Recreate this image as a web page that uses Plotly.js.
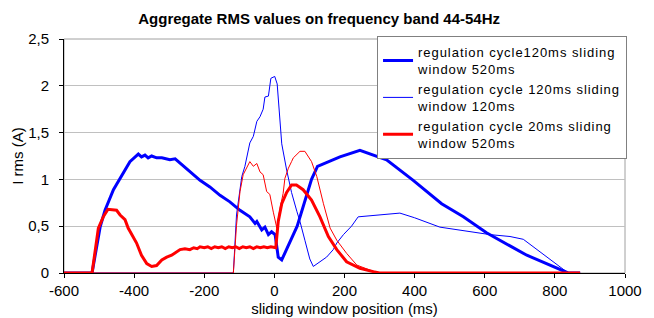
<!DOCTYPE html>
<html>
<head>
<meta charset="utf-8">
<script src="https://cdn.plot.ly/plotly-3.0.1.min.js"></script>
<style>
  html, body { margin: 0; padding: 0; background: #fff; }
  #chart { width: 654px; height: 318px; }
  .legendtext { letter-spacing: 0.95px; }
</style>
</head>
<body>
<div id="chart"></div>
<script>
// Series 1: regulation cycle 120ms, sliding window 520ms (thick blue)
const xA = [-600, -520, -497, -483, -459, -436, -412, -388, -379, -369, -360, -350, -336, -321, -307, -298, -283, -271, -241, -212, -184, -155, -127, -98, -70, -55, -50, -36, -27, -17, -8, 2, 11, 21, 65, 106, 123, 187, 244, 320, 396, 477, 539, 605, 672, 720, 838, 872];
const yA = [0, 0, 0.49, 0.67, 0.89, 1.03, 1.19, 1.27, 1.24, 1.26, 1.23, 1.25, 1.23, 1.23, 1.22, 1.21, 1.22, 1.18, 1.08, 0.99, 0.92, 0.83, 0.76, 0.67, 0.60, 0.53, 0.55, 0.46, 0.49, 0.41, 0.44, 0.41, 0.17, 0.14, 0.50, 1.00, 1.14, 1.24, 1.31, 1.21, 0.99, 0.74, 0.60, 0.43, 0.29, 0.19, 0.0, 0.0];

// Series 2: regulation cycle 120ms, sliding window 120ms (thin blue)
const xB = [-600, -117, -108, -100, -93, -84, -77, -70, -60, -50, -41, -32, -27, -17, -10, 1, 8, 14, 21, 35, 49, 64, 73, 87, 101, 111, 125, 149, 168, 178, 197, 220, 239, 270, 330, 358, 400, 472, 615, 672, 710, 838, 872];
const yB = [0, 0, 0.62, 0.85, 1.03, 1.14, 1.25, 1.39, 1.46, 1.62, 1.67, 1.75, 1.88, 1.89, 2.08, 2.10, 2.02, 1.75, 1.38, 1.10, 0.86, 0.66, 0.55, 0.35, 0.15, 0.07, 0.11, 0.17, 0.25, 0.32, 0.41, 0.50, 0.60, 0.61, 0.63, 0.64, 0.59, 0.49, 0.41, 0.39, 0.36, 0.0, 0.0];

// Series 3: regulation cycle 20ms, sliding window 520ms (thick red)
const xC = [-600, -520, -502, -488, -475, -460, -450, -440, -426, -417, -402, -393, -379, -364, -350, -336, -321, -307, -293, -279, -269, -255, -241, -230, -220, -212, -200, -190, -180, -170, -160, -150, -140, -130, -120, -110, -100, -90, -80, -70, -60, -50, -40, -30, -20, -10, 0, 4, 11, 21, 35, 49, 63, 82, 106, 130, 154, 178, 206, 244, 282, 300, 872];
const yC = [0, 0, 0.48, 0.60, 0.68, 0.67, 0.67, 0.62, 0.57, 0.48, 0.37, 0.32, 0.19, 0.10, 0.07, 0.08, 0.14, 0.17, 0.19, 0.23, 0.25, 0.26, 0.25, 0.27, 0.26, 0.28, 0.27, 0.28, 0.26, 0.28, 0.27, 0.28, 0.26, 0.28, 0.27, 0.28, 0.26, 0.28, 0.27, 0.28, 0.26, 0.28, 0.27, 0.28, 0.27, 0.28, 0.27, 0.27, 0.55, 0.74, 0.86, 0.94, 0.94, 0.89, 0.78, 0.60, 0.39, 0.25, 0.12, 0.05, 0.015, 0.0, 0.0];

// Series 4: thin red (not in legend)
const xD = [-600, -117, -108, -98, -89, -79, -70, -60, -50, -41, -32, -22, -13, -3, 7, 16, 25, 30, 40, 49, 54, 73, 87, 106, 121, 140, 159, 178, 206, 235, 273, 300, 872];
const yD = [0, 0, 0.51, 0.87, 1.05, 1.12, 1.19, 1.14, 1.17, 1.08, 1.05, 0.87, 0.84, 0.65, 0.48, 0.69, 0.85, 1.01, 1.12, 1.19, 1.23, 1.30, 1.30, 1.19, 1.03, 0.74, 0.48, 0.35, 0.21, 0.085, 0.03, 0.0, 0.0];

const names = [
  'regulation cycle120ms sliding<br>window 520ms',
  'regulation cycle 120ms sliding<br>window 120ms',
  'regulation cycle 20ms sliding<br>window 520ms'
];

const xTickVals = [-600, -400, -200, 0, 200, 400, 600, 800, 1000];
const xTickText = ['-600', '-400', '-200', '0', '200', '400', '600', '800', '1000'];
const yTickVals = [0, 0.5, 1, 1.5, 2, 2.5];
const yTickText = ['0', '0,5', '1', '1,5', '2', '2,5'];

const FONT = '"Liberation Sans", Arial, sans-serif';

const traces = [
  {x: xA, y: yA, mode: 'lines', name: names[0], line: {color: '#0000ff', width: 3}},
  {x: xB, y: yB, mode: 'lines', name: names[1], line: {color: '#0000ff', width: 1}},
  {x: xD, y: yD, mode: 'lines', name: 'thin red', showlegend: false, line: {color: '#ff0000', width: 1}},
  {x: xC, y: yC, mode: 'lines', name: names[2], line: {color: '#ff0000', width: 3}}
];

const layout = {
  width: 654, height: 318,
  margin: {l: 64, r: 29, t: 39, b: 45},
  paper_bgcolor: '#ffffff', plot_bgcolor: '#ffffff',
  font: {family: FONT, size: 15, color: '#000000'},
  title: {text: '<b>Aggregate RMS values on frequency band 44-54Hz</b>', font: {family: FONT, size: 15, color: '#000'}, x: 0.488, xanchor: 'center', xref: 'container', y: 0.94, yanchor: 'middle', yref: 'container'},
  xaxis: {
    range: [-600, 1000], tickvals: xTickVals, ticktext: xTickText,
    showgrid: false, zeroline: false, showline: true, linecolor: '#000', linewidth: 1,
    ticks: 'outside', ticklen: 4, tickcolor: '#000',
    tickfont: {family: FONT, size: 15, color: '#000'},
    title: {text: 'sliding window position (ms)', font: {family: FONT, size: 15, color: '#000'}, standoff: 5}
  },
  yaxis: {
    range: [0, 2.5], tickvals: yTickVals, ticktext: yTickText,
    showgrid: true, gridcolor: '#c0c0c0', gridwidth: 1, zeroline: false,
    showline: true, linecolor: '#000', linewidth: 1,
    ticks: 'outside', ticklen: 4, tickcolor: '#000', ticklabelstandoff: 7,
    tickfont: {family: FONT, size: 15, color: '#000'},
    title: {text: 'I rms (A)', font: {family: FONT, size: 15, color: '#000'}, standoff: 0}
  },
  shapes: [
    {type: 'rect', xref: 'paper', yref: 'paper', x0: 0, x1: 1, y0: 0, y1: 1, line: {color: '#a0a0a0', width: 1}, layer: 'below'}
  ],
  legend: {
    x: 0.558, y: 1.012, xanchor: 'left', yanchor: 'top',
    bgcolor: '#ffffff', bordercolor: '#808080', borderwidth: 1,
    font: {family: FONT, size: 13, color: '#000'},
    itemwidth: 30, tracegroupgap: 0
  },
  showlegend: true
};

Plotly.newPlot('chart', traces, layout, {displayModeBar: false, staticPlot: true});
</script>
</body>
</html>
